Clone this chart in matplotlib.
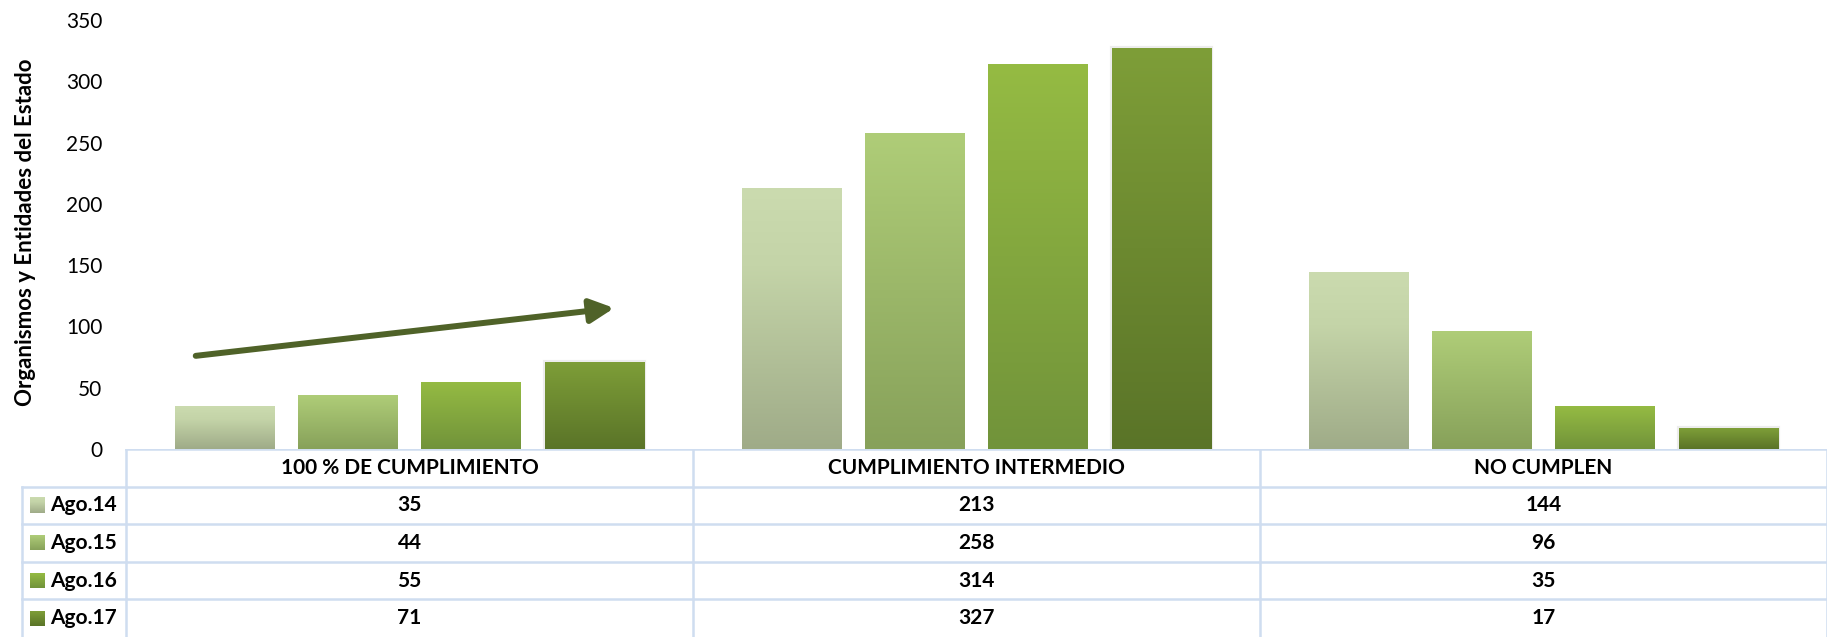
import numpy as np
import matplotlib
matplotlib.use("Agg")
import matplotlib.pyplot as plt
from matplotlib.colors import LinearSegmentedColormap
import matplotlib.patheffects as pe

# datos
categorias = ["100 % DE CUMPLIMIENTO", "CUMPLIMIENTO INTERMEDIO", "NO CUMPLEN"]
series = ["Ago.14", "Ago.15", "Ago.16", "Ago.17"]
ago14 = [35, 213, 144]
ago15 = [44, 258, 96]
ago16 = [55, 314, 35]
ago17 = [71, 327, 17]
valores = [ago14, ago15, ago16, ago17]

# degradados (arriba -> abajo)
gradientes = [
    [(0.0, "#CBDBAF"), (0.3, "#C4D4A8"), (1.0, "#9FAB88")],
    [(0.0, "#AFCD78"), (1.0, "#87A15A")],
    [(0.0, "#95BB43"), (1.0, "#71933A")],
    [(0.0, "#7E9E38"), (1.0, "#5A7428")],
]

plt.rcParams['font.family'] = ['Lato', 'DejaVu Sans']
W, H = 1827, 637
fig = plt.figure(figsize=(W / 100, H / 100), dpi=100)

ax_left, ax_bottom_px, ax_top_px = 126, 449, 20
ax = fig.add_axes([ax_left / W, (H - ax_bottom_px) / H, 1 - ax_left / W,
                   (ax_bottom_px - ax_top_px) / H])

x = np.arange(len(categorias))
paso = 0.2175
ancho = 0.176

grad = np.linspace(0, 1, 256).reshape(-1, 1)
for j, (nombre, vals) in enumerate(zip(series, valores)):
    cmap = LinearSegmentedColormap.from_list(nombre, gradientes[j])
    bars = ax.bar(x + (j - 1.5) * paso, vals, ancho, color="none", edgecolor="none")
    for b in bars:
        x0, w, h = b.get_x(), b.get_width(), b.get_height()
        if j == 3:
            b.set_path_effects([pe.Stroke(linewidth=3, foreground="#EDEDED"), pe.Normal()])
            b.set_edgecolor("#D5D5D5")
            b.set_linewidth(0.6)
        im = ax.imshow(grad, cmap=cmap, extent=(x0, x0 + w, 0, h), aspect="auto",
                       origin="upper", zorder=2)
        im.set_clip_path(b)

ax.set_xlim(-0.5, 2.5)
ax.set_ylim(0, 350)
ax.set_yticks(np.arange(0, 351, 50))
ax.set_xticks([])
ax.tick_params(axis="y", length=0, pad=17, labelsize=15)
for s in ax.spines.values():
    s.set_visible(False)

# flecha de tendencia
ax.annotate("", xy=(0.361, 115), xytext=(-0.377, 76),
            arrowprops=dict(arrowstyle="-|>", lw=4.3, color="#4F6228",
                            mutation_scale=36, shrinkA=0, shrinkB=0), zorder=5)

fig.text(26 / W, 1 - 232 / H, "Organismos y Entidades del Estado", rotation=90,
         ha="center", va="center", fontsize=16, fontweight="bold")

# tabla de datos
tax = fig.add_axes([0, 0, 1, (H - ax_bottom_px) / H])
tax.set_xlim(0, W)
tax.set_ylim(H, ax_bottom_px)
tax.axis("off")

fig.canvas.draw()
bordes = [ax.transData.transform((v, 0))[0] for v in [-0.5, 0.5, 1.5, 2.5]]
centros = [ax.transData.transform((v, 0))[0] for v in x]
n_filas = len(series) + 1
alto = (H - ax_bottom_px) / n_filas
filas = [ax_bottom_px + k * alto for k in range(n_filas + 1)]
linea = dict(color="#CFDDF0", lw=1.8, zorder=1)

tax.plot([bordes[0], W], [filas[0], filas[0]], **linea)
for yk in filas[1:-1]:
    tax.plot([22, W], [yk, yk], **linea)
for xb in bordes:
    tax.plot([xb, xb], [filas[0], H], **linea)
tax.plot([22, 22], [filas[1], H], **linea)

for i, cat in enumerate(categorias):
    tax.text(centros[i], (filas[0] + filas[1]) / 2, cat, ha="center", va="center",
             fontsize=15, fontweight="bold")
for j, (nombre, vals) in enumerate(zip(series, valores)):
    yc = (filas[j + 1] + filas[j + 2]) / 2
    cmap = LinearSegmentedColormap.from_list(nombre, gradientes[j])
    tax.imshow(grad, cmap=cmap, extent=(30, 45, yc + 7.5, yc - 7.5), aspect="auto",
               origin="upper")
    tax.text(50, yc, nombre, ha="left", va="center", fontsize=15, fontweight="bold")
    for i, v in enumerate(vals):
        tax.text(centros[i], yc, str(v), ha="center", va="center",
                 fontsize=15, fontweight="bold")
tax.set_xlim(0, W)
tax.set_ylim(H, ax_bottom_px)

fig.savefig("out.png", dpi=100)
